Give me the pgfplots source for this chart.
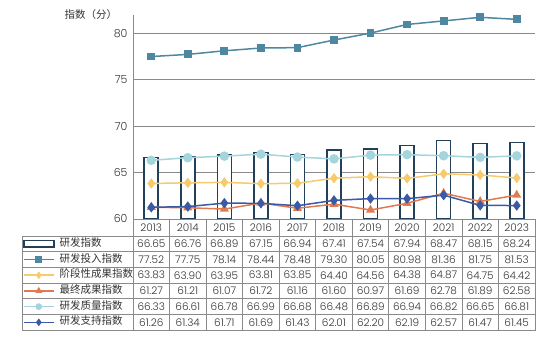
\documentclass[border=0pt]{standalone}
\usepackage{fontspec}
\setmainfont{Poppins}[UprightFont=* Light]
\newfontfamily\cjk{Noto Sans CJK SC}
\usepackage{pgfplots}
\usepackage{pgfplotstable}
\pgfplotsset{compat=1.18}
\definecolor{barc}{HTML}{23405A}
\definecolor{inputc}{HTML}{4D88A0}
\definecolor{stagec}{HTML}{F5CB6E}
\definecolor{finalc}{HTML}{E07B4F}
\definecolor{qualc}{HTML}{A5D5DC}
\definecolor{suppc}{HTML}{3B5AA5}
\definecolor{txt}{HTML}{333333}
\definecolor{tblc}{HTML}{8A8A8A}
\pgfplotstableread{
year rd input stage final quality support
2013 66.65 77.52 63.83 61.27 66.33 61.26
2014 66.76 77.75 63.90 61.21 66.61 61.34
2015 66.89 78.14 63.95 61.07 66.78 61.71
2016 67.15 78.44 63.81 61.72 66.99 61.69
2017 66.94 78.48 63.85 61.16 66.68 61.43
2018 67.41 79.30 64.40 61.60 66.48 62.01
2019 67.54 80.05 64.56 60.97 66.89 62.20
2020 67.94 80.98 64.38 61.69 66.94 62.19
2021 68.47 81.36 64.87 62.78 66.82 62.57
2022 68.15 81.75 64.75 61.89 66.65 61.47
2023 68.24 81.53 64.42 62.58 66.81 61.45
}\data
\begin{document}
\begin{tikzpicture}
\useasboundingbox (-133pt,-144pt) rectangle (417pt,219pt);
\begin{axis}[at={(0pt,0pt)}, anchor=south west, scale only axis,
  width=402pt, height=204pt,
  xmin=-0.5, xmax=10.5, ymin=60, ymax=82,
  ytick={60,65,70,75,80}, xtick=\empty,
  axis x line*=bottom, axis y line*=left,
  ymajorgrids, grid style={tblc, line width=0.9pt},
  axis line style={tblc, line width=0.9pt},
  major tick length=0pt,
  yticklabel style={font=\fontsize{11}{12}\selectfont, text=txt, xshift=-2pt},
  /pgf/number format/assume math mode=true,
  legend style={at={(-0.2736,-0.0833)}, anchor=north west, draw=none, fill=none,
    inner sep=0pt, outer sep=0pt, row sep=0pt, column sep=5pt,
    font=\cjk\fontsize{10.5}{12}\selectfont, text=txt,
    nodes={inner sep=0pt, text height=10.5pt, text depth=5.2pt}},
  legend cell align=left,
  legend image code/.code={\draw[mark repeat=2,mark phase=2,#1,mark size=2.6pt] plot coordinates {(0pt,0pt)(15pt,0pt)(30pt,0pt)};},
]
\addplot[ybar, bar width=14pt, bar shift=0pt, draw=barc, line width=1.6pt, fill=white,
  legend image code/.code={\draw[draw=barc,line width=1.6pt,fill=white] (0pt,-3.3pt) rectangle (30pt,3.3pt);}]
  table[x expr=\coordindex, y=rd]{\data};
\addlegendentry{研发指数}
\addplot[color=inputc, line width=1.5pt, mark=square*, mark size=3.2pt] table[x expr=\coordindex, y=input]{\data};
\addlegendentry{研发投入指数}
\addplot[color=stagec, line width=1.5pt, mark=diamond*, mark size=4pt] table[x expr=\coordindex, y=stage]{\data};
\addlegendentry{阶段性成果指数}
\addplot[color=finalc, line width=1.5pt, mark=triangle*, mark size=3.8pt] table[x expr=\coordindex, y=final]{\data};
\addlegendentry{最终成果指数}
\addplot[color=qualc, line width=1.5pt, mark=*, mark size=4pt] table[x expr=\coordindex, y=quality]{\data};
\addlegendentry{研发质量指数}
\addplot[color=suppc, line width=1.5pt, mark=diamond*, mark size=4pt] table[x expr=\coordindex, y=support]{\data};
\addlegendentry{研发支持指数}
\end{axis}
\node[font=\cjk\fontsize{10.5}{12}\selectfont, text=txt] at (-42pt,204pt) {指数（分）};
% table grid
\begin{scope}[tblc, line width=0.8pt]
\draw (0pt,0pt) rectangle (402pt,-17pt);
\draw (-110.5pt,-17pt) rectangle (402pt,-111.2pt);
\draw (0pt,-17pt) -- (0pt,-111.2pt);
\foreach \k in {1,...,10} \draw ({\k*36.5454pt},0pt) -- ({\k*36.5454pt},-111.2pt);
\foreach \j in {1,...,5} \draw (-110.5pt,{-17pt-\j*15.7pt}) -- (402pt,{-17pt-\j*15.7pt});
\end{scope}
\foreach \i in {0,...,10}{
  \pgfplotstablegetelem{\i}{year}\of\data
  \node[font=\fontsize{10.5}{12}\selectfont, text=txt] at ({(\i+0.5)*36.5454pt},-8.5pt) {\pgfplotsretval};
}
\foreach \c [count=\r from 0] in {rd,input,stage,final,quality,support}{
  \foreach \i in {0,...,10}{
    \pgfplotstablegetelem{\i}{\c}\of\data
    \node[font=\fontsize{10.5}{12}\selectfont, text=txt] at ({(\i+0.5)*36.5454pt},{-17pt-(\r+0.5)*15.7pt}) {\pgfplotsretval};
  }
}
\end{tikzpicture}
\end{document}
